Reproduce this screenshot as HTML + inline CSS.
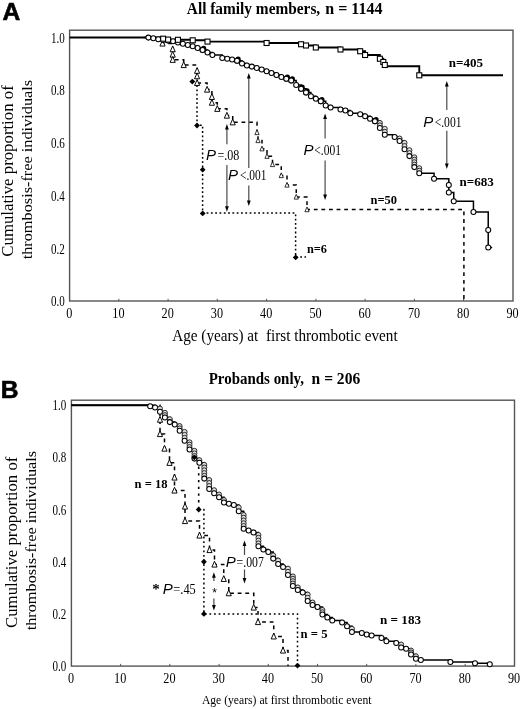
<!DOCTYPE html>
<html><head><meta charset="utf-8"><title>Thrombosis-free survival</title>
<style>
html,body{margin:0;padding:0;background:#fff;}
body{width:520px;height:709px;overflow:hidden;font-family:"Liberation Serif",serif;}
svg{display:block;filter:grayscale(1);}
text{fill:#000;}
</style></head><body>
<svg width="520" height="709" viewBox="0 0 520 709">
<rect x="0" y="0" width="520" height="709" fill="#fff"/>
<rect x="69.6" y="30.2" width="443.4" height="270.8" fill="none" stroke="#555" stroke-width="1.4"/>
<rect x="71.4" y="400.2" width="443.1" height="265.90000000000003" fill="none" stroke="#555" stroke-width="1.4"/>
<line x1="118.8" y1="301.0" x2="118.8" y2="298.8" stroke="#555" stroke-width="1"/>
<line x1="120.6" y1="666.1" x2="120.6" y2="663.9" stroke="#555" stroke-width="1"/>
<line x1="168.1" y1="301.0" x2="168.1" y2="298.8" stroke="#555" stroke-width="1"/>
<line x1="169.8" y1="666.1" x2="169.8" y2="663.9" stroke="#555" stroke-width="1"/>
<line x1="217.3" y1="301.0" x2="217.3" y2="298.8" stroke="#555" stroke-width="1"/>
<line x1="219.1" y1="666.1" x2="219.1" y2="663.9" stroke="#555" stroke-width="1"/>
<line x1="266.6" y1="301.0" x2="266.6" y2="298.8" stroke="#555" stroke-width="1"/>
<line x1="268.3" y1="666.1" x2="268.3" y2="663.9" stroke="#555" stroke-width="1"/>
<line x1="315.9" y1="301.0" x2="315.9" y2="298.8" stroke="#555" stroke-width="1"/>
<line x1="317.5" y1="666.1" x2="317.5" y2="663.9" stroke="#555" stroke-width="1"/>
<line x1="365.1" y1="301.0" x2="365.1" y2="298.8" stroke="#555" stroke-width="1"/>
<line x1="366.7" y1="666.1" x2="366.7" y2="663.9" stroke="#555" stroke-width="1"/>
<line x1="414.4" y1="301.0" x2="414.4" y2="298.8" stroke="#555" stroke-width="1"/>
<line x1="415.9" y1="666.1" x2="415.9" y2="663.9" stroke="#555" stroke-width="1"/>
<line x1="463.6" y1="301.0" x2="463.6" y2="298.8" stroke="#555" stroke-width="1"/>
<line x1="465.2" y1="666.1" x2="465.2" y2="663.9" stroke="#555" stroke-width="1"/>
<text x="69.2" y="317.7" font-family="Liberation Serif" font-size="15" font-weight="normal" font-style="normal" text-anchor="middle" textLength="6.1" lengthAdjust="spacingAndGlyphs" >0</text>
<text x="71.0" y="682.7" font-family="Liberation Serif" font-size="15" font-weight="normal" font-style="normal" text-anchor="middle" textLength="6.1" lengthAdjust="spacingAndGlyphs" >0</text>
<text x="118.4" y="317.7" font-family="Liberation Serif" font-size="15" font-weight="normal" font-style="normal" text-anchor="middle" textLength="12.2" lengthAdjust="spacingAndGlyphs" >10</text>
<text x="120.2" y="682.7" font-family="Liberation Serif" font-size="15" font-weight="normal" font-style="normal" text-anchor="middle" textLength="12.2" lengthAdjust="spacingAndGlyphs" >10</text>
<text x="167.7" y="317.7" font-family="Liberation Serif" font-size="15" font-weight="normal" font-style="normal" text-anchor="middle" textLength="12.2" lengthAdjust="spacingAndGlyphs" >20</text>
<text x="169.4" y="682.7" font-family="Liberation Serif" font-size="15" font-weight="normal" font-style="normal" text-anchor="middle" textLength="12.2" lengthAdjust="spacingAndGlyphs" >20</text>
<text x="216.9" y="317.7" font-family="Liberation Serif" font-size="15" font-weight="normal" font-style="normal" text-anchor="middle" textLength="12.2" lengthAdjust="spacingAndGlyphs" >30</text>
<text x="218.7" y="682.7" font-family="Liberation Serif" font-size="15" font-weight="normal" font-style="normal" text-anchor="middle" textLength="12.2" lengthAdjust="spacingAndGlyphs" >30</text>
<text x="266.2" y="317.7" font-family="Liberation Serif" font-size="15" font-weight="normal" font-style="normal" text-anchor="middle" textLength="12.2" lengthAdjust="spacingAndGlyphs" >40</text>
<text x="267.9" y="682.7" font-family="Liberation Serif" font-size="15" font-weight="normal" font-style="normal" text-anchor="middle" textLength="12.2" lengthAdjust="spacingAndGlyphs" >40</text>
<text x="315.5" y="317.7" font-family="Liberation Serif" font-size="15" font-weight="normal" font-style="normal" text-anchor="middle" textLength="12.2" lengthAdjust="spacingAndGlyphs" >50</text>
<text x="317.1" y="682.7" font-family="Liberation Serif" font-size="15" font-weight="normal" font-style="normal" text-anchor="middle" textLength="12.2" lengthAdjust="spacingAndGlyphs" >50</text>
<text x="364.7" y="317.7" font-family="Liberation Serif" font-size="15" font-weight="normal" font-style="normal" text-anchor="middle" textLength="12.2" lengthAdjust="spacingAndGlyphs" >60</text>
<text x="366.3" y="682.7" font-family="Liberation Serif" font-size="15" font-weight="normal" font-style="normal" text-anchor="middle" textLength="12.2" lengthAdjust="spacingAndGlyphs" >60</text>
<text x="414.0" y="317.7" font-family="Liberation Serif" font-size="15" font-weight="normal" font-style="normal" text-anchor="middle" textLength="12.2" lengthAdjust="spacingAndGlyphs" >70</text>
<text x="415.5" y="682.7" font-family="Liberation Serif" font-size="15" font-weight="normal" font-style="normal" text-anchor="middle" textLength="12.2" lengthAdjust="spacingAndGlyphs" >70</text>
<text x="463.2" y="317.7" font-family="Liberation Serif" font-size="15" font-weight="normal" font-style="normal" text-anchor="middle" textLength="12.2" lengthAdjust="spacingAndGlyphs" >80</text>
<text x="464.8" y="682.7" font-family="Liberation Serif" font-size="15" font-weight="normal" font-style="normal" text-anchor="middle" textLength="12.2" lengthAdjust="spacingAndGlyphs" >80</text>
<text x="512.5" y="317.7" font-family="Liberation Serif" font-size="15" font-weight="normal" font-style="normal" text-anchor="middle" textLength="12.2" lengthAdjust="spacingAndGlyphs" >90</text>
<text x="514.0" y="682.7" font-family="Liberation Serif" font-size="15" font-weight="normal" font-style="normal" text-anchor="middle" textLength="12.2" lengthAdjust="spacingAndGlyphs" >90</text>
<text x="64.7" y="306.3" font-family="Liberation Serif" font-size="15" font-weight="normal" font-style="normal" text-anchor="end" textLength="13.8" lengthAdjust="spacingAndGlyphs" >0.0</text>
<text x="66.3" y="671.1" font-family="Liberation Serif" font-size="15" font-weight="normal" font-style="normal" text-anchor="end" textLength="13.8" lengthAdjust="spacingAndGlyphs" >0.0</text>
<text x="64.7" y="253.6" font-family="Liberation Serif" font-size="15" font-weight="normal" font-style="normal" text-anchor="end" textLength="13.8" lengthAdjust="spacingAndGlyphs" >0.2</text>
<text x="66.3" y="618.9" font-family="Liberation Serif" font-size="15" font-weight="normal" font-style="normal" text-anchor="end" textLength="13.8" lengthAdjust="spacingAndGlyphs" >0.2</text>
<text x="64.7" y="200.8" font-family="Liberation Serif" font-size="15" font-weight="normal" font-style="normal" text-anchor="end" textLength="13.8" lengthAdjust="spacingAndGlyphs" >0.4</text>
<text x="66.3" y="566.7" font-family="Liberation Serif" font-size="15" font-weight="normal" font-style="normal" text-anchor="end" textLength="13.8" lengthAdjust="spacingAndGlyphs" >0.4</text>
<text x="64.7" y="148.1" font-family="Liberation Serif" font-size="15" font-weight="normal" font-style="normal" text-anchor="end" textLength="13.8" lengthAdjust="spacingAndGlyphs" >0.6</text>
<text x="66.3" y="514.6" font-family="Liberation Serif" font-size="15" font-weight="normal" font-style="normal" text-anchor="end" textLength="13.8" lengthAdjust="spacingAndGlyphs" >0.6</text>
<text x="64.7" y="95.3" font-family="Liberation Serif" font-size="15" font-weight="normal" font-style="normal" text-anchor="end" textLength="13.8" lengthAdjust="spacingAndGlyphs" >0.8</text>
<text x="66.3" y="462.4" font-family="Liberation Serif" font-size="15" font-weight="normal" font-style="normal" text-anchor="end" textLength="13.8" lengthAdjust="spacingAndGlyphs" >0.8</text>
<text x="64.7" y="42.6" font-family="Liberation Serif" font-size="15" font-weight="normal" font-style="normal" text-anchor="end" textLength="13.8" lengthAdjust="spacingAndGlyphs" >1.0</text>
<text x="66.3" y="410.2" font-family="Liberation Serif" font-size="15" font-weight="normal" font-style="normal" text-anchor="end" textLength="13.8" lengthAdjust="spacingAndGlyphs" >1.0</text>
<text x="2.6" y="19.9" font-family="Liberation Sans" font-size="24.6" font-weight="bold" font-style="normal" text-anchor="start" stroke="#000" stroke-width="0.6">A</text>
<text x="0.7" y="397.9" font-family="Liberation Sans" font-size="24.6" font-weight="bold" font-style="normal" text-anchor="start" stroke="#000" stroke-width="0.6">B</text>
<text x="186.8" y="13.8" font-family="Liberation Serif" font-size="16.2" font-weight="bold" font-style="normal" text-anchor="start" textLength="133.4" lengthAdjust="spacingAndGlyphs" >All family members,</text>
<text x="325.3" y="13.8" font-family="Liberation Serif" font-size="16.2" font-weight="bold" font-style="normal" text-anchor="start" textLength="57.2" lengthAdjust="spacingAndGlyphs" >n = 1144</text>
<text x="208.7" y="383.7" font-family="Liberation Serif" font-size="16.2" font-weight="bold" font-style="normal" text-anchor="start" textLength="95.3" lengthAdjust="spacingAndGlyphs" >Probands only,</text>
<text x="311.6" y="383.7" font-family="Liberation Serif" font-size="16.2" font-weight="bold" font-style="normal" text-anchor="start" textLength="48.6" lengthAdjust="spacingAndGlyphs" >n = 206</text>
<text x="172.2" y="340.5" font-family="Liberation Serif" font-size="17.6" font-weight="normal" font-style="normal" text-anchor="start" textLength="225.5" lengthAdjust="spacingAndGlyphs" xml:space="preserve">Age (years) at  first thrombotic event</text>
<text x="201.9" y="703.6" font-family="Liberation Serif" font-size="13" font-weight="normal" font-style="normal" text-anchor="start" textLength="169.6" lengthAdjust="spacingAndGlyphs" >Age (years) at first thrombotic event</text>
<text transform="translate(13.1,171.0) rotate(-90)" font-family="Liberation Serif" font-size="16" text-anchor="middle" textLength="171.4" lengthAdjust="spacingAndGlyphs">Cumulative proportion of</text>
<text transform="translate(32.3,169.6) rotate(-90)" font-family="Liberation Serif" font-size="15.3" text-anchor="middle" textLength="179.5" lengthAdjust="spacingAndGlyphs">thrombosis-free individuals</text>
<text transform="translate(16.6,542.3) rotate(-90)" font-family="Liberation Serif" font-size="16" text-anchor="middle" textLength="171.4" lengthAdjust="spacingAndGlyphs">Cumulative proportion of</text>
<text transform="translate(36.1,540.6) rotate(-90)" font-family="Liberation Serif" font-size="15.3" text-anchor="middle" textLength="179.5" lengthAdjust="spacingAndGlyphs">thrombosis-free individuals</text>
<path d="M69.60,37.50 H163.18 V38.70 H168.10 V39.60 H177.95 V39.80 H192.72 V40.30 H207.50 V41.60 H266.60 V43.00 H301.07 V44.25 H306.00 V45.50 H315.85 V47.50 H340.48 V49.50 H360.17 V51.25 H365.10 V55.00 H379.88 V58.75 H383.32 V62.00 H384.80 V65.00 H385.05 V66.25 H419.27 V75.30 H503" fill="none" stroke="#000" stroke-width="1.9"/>
<path d="M143.47,37.50 H148.40 V37.60 H153.32 V38.25 H158.25 V39.25 H163.18 V40.00 H168.10 V40.60 H173.02 V41.25 H177.95 V42.50 H182.88 V43.75 H187.80 V45.00 H192.72 V46.25 H197.65 V48.00 H202.57 V50.00 H207.50 V52.50 H212.42 V55.00 H222.27 V58.00 H227.20 V58.75 H232.12 V59.50 H237.05 V60.75 H241.97 V63.50 H246.90 V65.50 H251.82 V66.60 H256.75 V68.00 H261.67 V69.50 H266.60 V71.25 H271.52 V73.00 H276.45 V75.00 H281.38 V77.00 H286.30 V78.75 H291.23 V80.50 H296.15 V85.00 H301.07 V88.75 H306.00 V92.50 H310.92 V96.25 H315.85 V98.75 H320.77 V101.25 H325.70 V105.50 H330.62 V107.50 H340.48 V109.50 H345.40 V110.50 H350.32 V113.25 H360.17 V114.25 H365.10 V116.25 H370.02 V118.75 H374.95 V121.25 H379.88 V127.90 H384.80 V134.80 H394.65 V137.00 H399.57 V140.90 H404.50 V149.20 H409.42 V156.10 H414.35 V167.10 H419.27 V173.25 H434.05 V178.75 H448.82 V192.50 H453.75 V201.25 H473.45 V212.00 H488.23 V247.50 H492.2" fill="none" stroke="#000" stroke-width="1.5"/>
<path d="M150.00,37.50 H162.50 V43.50 H172.70 V49.20 H172.70 V54.60 H172.70 V59.80 H183.70 V65.00 H197.10 V70.80 H197.10 V76.20 H197.10 V82.90 H207.10 V89.60 H211.90 V96.90 H211.90 V102.70 H217.30 V108.80 H226.90 V115.60 H232.70 V122.30 H257.00 V132.50 H258.00 V140.50 H262.00 V148.75 H267.00 V156.25 H272.50 V164.50 H281.25 V175.50 H287.00 V185.00 H296.25 V197.00 H307.00 V209.60 H463.9 V301.0" fill="none" stroke="#000" stroke-width="1.5" stroke-dasharray="3.8 3.8" stroke-dashoffset="6.1"/>
<path d="M192.3,81.2 H197 V125.2 H202.6 V213.1 H295.6 V257.1 H306" fill="none" stroke="#000" stroke-width="1.5" stroke-dasharray="1.8 2.5"/>
<line x1="226.9" y1="127" x2="226.9" y2="144.2" stroke="#4a4a4a" stroke-width="1.2"/>
<line x1="226.9" y1="165" x2="226.9" y2="208.8" stroke="#4a4a4a" stroke-width="1.2"/>
<path d="M226.9,124 L228.8,129.5 L225.0,129.5 Z" fill="#000"/>
<path d="M226.9,211.8 L228.8,206.3 L225.0,206.3 Z" fill="#000"/>
<line x1="248.8" y1="76" x2="248.8" y2="168" stroke="#4a4a4a" stroke-width="1.2"/>
<line x1="248.8" y1="185.5" x2="248.8" y2="203" stroke="#4a4a4a" stroke-width="1.2"/>
<path d="M248.8,73 L250.70000000000002,78.5 L246.9,78.5 Z" fill="#000"/>
<path d="M248.8,206 L250.70000000000002,200.5 L246.9,200.5 Z" fill="#000"/>
<line x1="325.1" y1="116.5" x2="325.1" y2="138.5" stroke="#4a4a4a" stroke-width="1.2"/>
<line x1="325.1" y1="160.4" x2="325.1" y2="197" stroke="#4a4a4a" stroke-width="1.2"/>
<path d="M325.1,113.5 L327.0,119.0 L323.20000000000005,119.0 Z" fill="#000"/>
<path d="M325.1,200 L327.0,194.5 L323.20000000000005,194.5 Z" fill="#000"/>
<line x1="446.8" y1="84" x2="446.8" y2="110" stroke="#4a4a4a" stroke-width="1.2"/>
<line x1="446.8" y1="130.8" x2="446.8" y2="166" stroke="#4a4a4a" stroke-width="1.2"/>
<path d="M446.8,81 L448.7,86.5 L444.90000000000003,86.5 Z" fill="#000"/>
<path d="M446.8,169 L448.7,163.5 L444.90000000000003,163.5 Z" fill="#000"/>
<path d="M162.50,40.25 L165.08,46.08 L159.92,46.08 Z" fill="#fff" stroke="#000" stroke-width="0.95"/>
<path d="M172.70,45.95 L175.28,51.78 L170.12,51.78 Z" fill="#fff" stroke="#000" stroke-width="0.95"/>
<path d="M172.70,51.35 L175.28,57.18 L170.12,57.18 Z" fill="#fff" stroke="#000" stroke-width="0.95"/>
<path d="M172.70,56.55 L175.28,62.38 L170.12,62.38 Z" fill="#fff" stroke="#000" stroke-width="0.95"/>
<path d="M183.70,61.75 L186.28,67.58 L181.12,67.58 Z" fill="#fff" stroke="#000" stroke-width="0.95"/>
<path d="M197.10,67.55 L199.68,73.38 L194.52,73.38 Z" fill="#fff" stroke="#000" stroke-width="0.95"/>
<path d="M197.10,72.95 L199.68,78.78 L194.52,78.78 Z" fill="#fff" stroke="#000" stroke-width="0.95"/>
<path d="M197.10,79.65 L199.68,85.48 L194.52,85.48 Z" fill="#fff" stroke="#000" stroke-width="0.95"/>
<path d="M207.10,86.35 L209.68,92.18 L204.52,92.18 Z" fill="#fff" stroke="#000" stroke-width="0.95"/>
<path d="M211.90,93.65 L214.48,99.48 L209.32,99.48 Z" fill="#fff" stroke="#000" stroke-width="0.95"/>
<path d="M211.90,99.45 L214.48,105.28 L209.32,105.28 Z" fill="#fff" stroke="#000" stroke-width="0.95"/>
<path d="M217.30,105.55 L219.88,111.38 L214.72,111.38 Z" fill="#fff" stroke="#000" stroke-width="0.95"/>
<path d="M226.90,112.35 L229.48,118.18 L224.32,118.18 Z" fill="#fff" stroke="#000" stroke-width="0.95"/>
<path d="M232.70,119.05 L235.28,124.88 L230.12,124.88 Z" fill="#fff" stroke="#000" stroke-width="0.95"/>
<path d="M257.00,129.83 L259.12,134.62 L254.88,134.62 Z" fill="#fff" stroke="#000" stroke-width="0.78"/>
<path d="M258.00,137.83 L260.12,142.62 L255.88,142.62 Z" fill="#fff" stroke="#000" stroke-width="0.78"/>
<path d="M262.00,146.08 L264.12,150.87 L259.88,150.87 Z" fill="#fff" stroke="#000" stroke-width="0.78"/>
<path d="M267.00,153.58 L269.12,158.37 L264.88,158.37 Z" fill="#fff" stroke="#000" stroke-width="0.78"/>
<path d="M272.50,161.83 L274.62,166.62 L270.38,166.62 Z" fill="#fff" stroke="#000" stroke-width="0.78"/>
<path d="M281.25,172.83 L283.37,177.62 L279.13,177.62 Z" fill="#fff" stroke="#000" stroke-width="0.78"/>
<path d="M287.00,182.33 L289.12,187.12 L284.88,187.12 Z" fill="#fff" stroke="#000" stroke-width="0.78"/>
<path d="M296.25,194.33 L298.37,199.12 L294.13,199.12 Z" fill="#fff" stroke="#000" stroke-width="0.78"/>
<path d="M307.00,206.93 L309.12,211.72 L304.88,211.72 Z" fill="#fff" stroke="#000" stroke-width="0.78"/>
<circle cx="148.40" cy="37.60" r="2.5" fill="#fff" stroke="#000" stroke-width="1.05"/>
<circle cx="153.32" cy="38.25" r="2.5" fill="#fff" stroke="#000" stroke-width="1.05"/>
<circle cx="158.25" cy="39.25" r="2.5" fill="#fff" stroke="#000" stroke-width="1.05"/>
<circle cx="163.18" cy="40.00" r="2.5" fill="#fff" stroke="#000" stroke-width="1.05"/>
<circle cx="168.10" cy="40.60" r="2.5" fill="#fff" stroke="#000" stroke-width="1.05"/>
<circle cx="173.02" cy="41.25" r="2.5" fill="#fff" stroke="#000" stroke-width="1.05"/>
<circle cx="177.95" cy="42.50" r="2.5" fill="#fff" stroke="#000" stroke-width="1.05"/>
<circle cx="182.88" cy="43.75" r="2.5" fill="#fff" stroke="#000" stroke-width="1.05"/>
<circle cx="187.80" cy="45.00" r="2.5" fill="#fff" stroke="#000" stroke-width="1.05"/>
<circle cx="192.72" cy="46.25" r="2.5" fill="#fff" stroke="#000" stroke-width="1.05"/>
<circle cx="197.65" cy="48.00" r="2.5" fill="#fff" stroke="#000" stroke-width="1.05"/>
<circle cx="203.67" cy="48.40" r="2.6" fill="#000"/>
<circle cx="202.57" cy="50.00" r="2.5" fill="#fff" stroke="#000" stroke-width="1.05"/>
<circle cx="202.57" cy="50.00" r="2.5" fill="#fff" stroke="#000" stroke-width="1.05"/>
<circle cx="207.50" cy="52.50" r="2.5" fill="#fff" stroke="#000" stroke-width="1.05"/>
<circle cx="212.42" cy="55.00" r="2.5" fill="#fff" stroke="#000" stroke-width="1.05"/>
<circle cx="222.27" cy="58.00" r="2.5" fill="#fff" stroke="#000" stroke-width="1.05"/>
<circle cx="227.20" cy="58.75" r="2.5" fill="#fff" stroke="#000" stroke-width="1.05"/>
<circle cx="232.12" cy="59.50" r="2.5" fill="#fff" stroke="#000" stroke-width="1.05"/>
<circle cx="238.15" cy="59.15" r="2.6" fill="#000"/>
<circle cx="237.05" cy="60.75" r="2.5" fill="#fff" stroke="#000" stroke-width="1.05"/>
<circle cx="237.05" cy="60.75" r="2.5" fill="#fff" stroke="#000" stroke-width="1.05"/>
<circle cx="241.97" cy="63.50" r="2.5" fill="#fff" stroke="#000" stroke-width="1.05"/>
<circle cx="246.90" cy="65.50" r="2.5" fill="#fff" stroke="#000" stroke-width="1.05"/>
<circle cx="251.82" cy="66.60" r="2.5" fill="#fff" stroke="#000" stroke-width="1.05"/>
<circle cx="256.75" cy="68.00" r="2.5" fill="#fff" stroke="#000" stroke-width="1.05"/>
<circle cx="261.67" cy="69.50" r="2.5" fill="#fff" stroke="#000" stroke-width="1.05"/>
<circle cx="266.60" cy="71.25" r="2.5" fill="#fff" stroke="#000" stroke-width="1.05"/>
<circle cx="271.52" cy="73.00" r="2.5" fill="#fff" stroke="#000" stroke-width="1.05"/>
<circle cx="276.45" cy="75.00" r="2.5" fill="#fff" stroke="#000" stroke-width="1.05"/>
<circle cx="281.38" cy="77.00" r="2.5" fill="#fff" stroke="#000" stroke-width="1.05"/>
<circle cx="287.40" cy="77.15" r="2.6" fill="#000"/>
<circle cx="286.30" cy="78.75" r="2.5" fill="#fff" stroke="#000" stroke-width="1.05"/>
<circle cx="286.30" cy="78.75" r="2.5" fill="#fff" stroke="#000" stroke-width="1.05"/>
<circle cx="292.33" cy="78.90" r="2.6" fill="#000"/>
<circle cx="291.23" cy="80.50" r="2.5" fill="#fff" stroke="#000" stroke-width="1.05"/>
<circle cx="291.23" cy="80.50" r="2.5" fill="#fff" stroke="#000" stroke-width="1.05"/>
<circle cx="296.15" cy="85.00" r="2.5" fill="#fff" stroke="#000" stroke-width="1.05"/>
<circle cx="302.18" cy="87.15" r="2.6" fill="#000"/>
<circle cx="301.07" cy="88.75" r="2.5" fill="#fff" stroke="#000" stroke-width="1.05"/>
<circle cx="301.07" cy="88.75" r="2.5" fill="#fff" stroke="#000" stroke-width="1.05"/>
<circle cx="307.10" cy="90.90" r="2.6" fill="#000"/>
<circle cx="306.00" cy="92.50" r="2.5" fill="#fff" stroke="#000" stroke-width="1.05"/>
<circle cx="306.00" cy="92.50" r="2.5" fill="#fff" stroke="#000" stroke-width="1.05"/>
<circle cx="310.92" cy="96.25" r="2.5" fill="#fff" stroke="#000" stroke-width="1.05"/>
<circle cx="315.85" cy="98.75" r="2.5" fill="#fff" stroke="#000" stroke-width="1.05"/>
<circle cx="321.88" cy="99.65" r="2.6" fill="#000"/>
<circle cx="320.77" cy="101.25" r="2.5" fill="#fff" stroke="#000" stroke-width="1.05"/>
<circle cx="320.77" cy="101.25" r="2.5" fill="#fff" stroke="#000" stroke-width="1.05"/>
<circle cx="325.70" cy="105.50" r="2.5" fill="#fff" stroke="#000" stroke-width="1.05"/>
<circle cx="330.62" cy="107.50" r="2.5" fill="#fff" stroke="#000" stroke-width="1.05"/>
<circle cx="340.48" cy="109.50" r="2.5" fill="#fff" stroke="#000" stroke-width="1.05"/>
<circle cx="345.40" cy="110.50" r="2.5" fill="#fff" stroke="#000" stroke-width="1.05"/>
<circle cx="350.32" cy="113.25" r="2.5" fill="#fff" stroke="#000" stroke-width="1.05"/>
<circle cx="360.17" cy="114.25" r="2.5" fill="#fff" stroke="#000" stroke-width="1.05"/>
<circle cx="365.10" cy="116.25" r="2.5" fill="#fff" stroke="#000" stroke-width="1.05"/>
<circle cx="370.02" cy="118.75" r="2.5" fill="#fff" stroke="#000" stroke-width="1.05"/>
<circle cx="376.05" cy="119.65" r="2.6" fill="#000"/>
<circle cx="374.95" cy="121.25" r="2.5" fill="#fff" stroke="#000" stroke-width="1.05"/>
<circle cx="374.95" cy="121.25" r="2.5" fill="#fff" stroke="#000" stroke-width="1.05"/>
<circle cx="379.88" cy="122.90" r="2.5" fill="#ddd" stroke="#111" stroke-width="0.85"/>
<circle cx="379.88" cy="125.40" r="2.5" fill="#ddd" stroke="#111" stroke-width="0.85"/>
<circle cx="379.88" cy="127.90" r="2.5" fill="#fff" stroke="#000" stroke-width="1.05"/>
<circle cx="384.80" cy="128.80" r="2.5" fill="#ddd" stroke="#111" stroke-width="0.85"/>
<circle cx="384.80" cy="131.80" r="2.5" fill="#ddd" stroke="#111" stroke-width="0.85"/>
<circle cx="384.80" cy="134.80" r="2.5" fill="#fff" stroke="#000" stroke-width="1.05"/>
<circle cx="394.65" cy="137.00" r="2.5" fill="#fff" stroke="#000" stroke-width="1.05"/>
<circle cx="399.57" cy="138.50" r="2.5" fill="#ddd" stroke="#111" stroke-width="0.85"/>
<circle cx="399.57" cy="140.90" r="2.5" fill="#fff" stroke="#000" stroke-width="1.05"/>
<circle cx="404.50" cy="142.90" r="2.5" fill="#ddd" stroke="#111" stroke-width="0.85"/>
<circle cx="404.50" cy="146.05" r="2.5" fill="#ddd" stroke="#111" stroke-width="0.85"/>
<circle cx="404.50" cy="149.20" r="2.5" fill="#fff" stroke="#000" stroke-width="1.05"/>
<circle cx="409.42" cy="150.20" r="2.5" fill="#ddd" stroke="#111" stroke-width="0.85"/>
<circle cx="409.42" cy="153.15" r="2.5" fill="#ddd" stroke="#111" stroke-width="0.85"/>
<circle cx="409.42" cy="156.10" r="2.5" fill="#fff" stroke="#000" stroke-width="1.05"/>
<circle cx="414.35" cy="157.30" r="2.5" fill="#ddd" stroke="#111" stroke-width="0.85"/>
<circle cx="414.35" cy="159.75" r="2.5" fill="#ddd" stroke="#111" stroke-width="0.85"/>
<circle cx="414.35" cy="162.20" r="2.5" fill="#ddd" stroke="#111" stroke-width="0.85"/>
<circle cx="414.35" cy="164.65" r="2.5" fill="#ddd" stroke="#111" stroke-width="0.85"/>
<circle cx="414.35" cy="167.10" r="2.5" fill="#fff" stroke="#000" stroke-width="1.05"/>
<circle cx="419.27" cy="168.20" r="2.5" fill="#ddd" stroke="#111" stroke-width="0.85"/>
<circle cx="419.27" cy="170.72" r="2.5" fill="#ddd" stroke="#111" stroke-width="0.85"/>
<circle cx="419.27" cy="173.25" r="2.5" fill="#fff" stroke="#000" stroke-width="1.05"/>
<circle cx="434.05" cy="178.75" r="2.5" fill="#fff" stroke="#000" stroke-width="1.05"/>
<circle cx="448.82" cy="185.00" r="2.5" fill="#fff" stroke="#000" stroke-width="1.05"/>
<circle cx="448.82" cy="192.50" r="2.5" fill="#fff" stroke="#000" stroke-width="1.05"/>
<circle cx="453.75" cy="201.25" r="2.5" fill="#fff" stroke="#000" stroke-width="1.05"/>
<circle cx="473.45" cy="212.00" r="2.5" fill="#fff" stroke="#000" stroke-width="1.05"/>
<circle cx="488.23" cy="230.00" r="2.5" fill="#fff" stroke="#000" stroke-width="1.05"/>
<circle cx="488.23" cy="247.50" r="2.5" fill="#fff" stroke="#000" stroke-width="1.05"/>
<rect x="160.68" y="36.20" width="5" height="5" fill="#fff" stroke="#000" stroke-width="1.1"/>
<rect x="165.60" y="37.10" width="5" height="5" fill="#fff" stroke="#000" stroke-width="1.1"/>
<rect x="175.45" y="37.30" width="5" height="5" fill="#fff" stroke="#000" stroke-width="1.1"/>
<rect x="190.22" y="37.80" width="5" height="5" fill="#fff" stroke="#000" stroke-width="1.1"/>
<rect x="205.00" y="39.10" width="5" height="5" fill="#fff" stroke="#000" stroke-width="1.1"/>
<rect x="264.10" y="40.50" width="5" height="5" fill="#fff" stroke="#000" stroke-width="1.1"/>
<rect x="298.57" y="41.75" width="5" height="5" fill="#fff" stroke="#000" stroke-width="1.1"/>
<rect x="303.50" y="43.00" width="5" height="5" fill="#fff" stroke="#000" stroke-width="1.1"/>
<rect x="313.35" y="45.00" width="5" height="5" fill="#fff" stroke="#000" stroke-width="1.1"/>
<rect x="337.98" y="47.00" width="5" height="5" fill="#fff" stroke="#000" stroke-width="1.1"/>
<rect x="357.67" y="48.75" width="5" height="5" fill="#fff" stroke="#000" stroke-width="1.1"/>
<rect x="362.60" y="52.50" width="5" height="5" fill="#fff" stroke="#000" stroke-width="1.1"/>
<rect x="377.38" y="56.25" width="5" height="5" fill="#fff" stroke="#000" stroke-width="1.1"/>
<rect x="380.82" y="59.50" width="5" height="5" fill="#fff" stroke="#000" stroke-width="1.1"/>
<rect x="382.30" y="62.50" width="5" height="5" fill="#fff" stroke="#000" stroke-width="1.1"/>
<rect x="416.77" y="72.80" width="5" height="5" fill="#fff" stroke="#000" stroke-width="1.1"/>
<path d="M192.30,78.65 L195.20,81.55 L192.30,84.45 L189.40,81.55 Z" fill="#000"/>
<path d="M197.00,122.60 L199.90,125.50 L197.00,128.40 L194.10,125.50 Z" fill="#000"/>
<path d="M202.70,166.75 L205.60,169.65 L202.70,172.55 L199.80,169.65 Z" fill="#000"/>
<path d="M202.70,210.50 L205.60,213.40 L202.70,216.30 L199.80,213.40 Z" fill="#000"/>
<path d="M295.70,254.55 L298.60,257.45 L295.70,260.35 L292.80,257.45 Z" fill="#000"/>
<text x="205.9" y="160" font-family="Liberation Sans" font-size="15" font-style="italic">P</text>
<text x="217.4" y="160" font-family="Liberation Serif" font-size="13.8" textLength="21.9" lengthAdjust="spacingAndGlyphs">=.08</text>
<text x="227.9" y="180.4" font-family="Liberation Sans" font-size="15" font-style="italic">P</text>
<text x="240.0" y="180.4" font-family="Liberation Serif" font-size="13.8" textLength="26.4" lengthAdjust="spacingAndGlyphs">&lt;.001</text>
<text x="303.59999999999997" y="154.6" font-family="Liberation Sans" font-size="15" font-style="italic">P</text>
<text x="314.3" y="154.6" font-family="Liberation Serif" font-size="13.8" textLength="26.6" lengthAdjust="spacingAndGlyphs">&lt;.001</text>
<text x="423.2" y="126.6" font-family="Liberation Sans" font-size="15" font-style="italic">P</text>
<text x="434.7" y="126.6" font-family="Liberation Serif" font-size="13.8" textLength="26.8" lengthAdjust="spacingAndGlyphs">&lt;.001</text>
<text x="448.8" y="66.5" font-family="Liberation Serif" font-size="13" font-weight="bold" font-style="normal" text-anchor="start" textLength="34.2" lengthAdjust="spacingAndGlyphs" >n=405</text>
<text x="459.5" y="186.3" font-family="Liberation Serif" font-size="13" font-weight="bold" font-style="normal" text-anchor="start" textLength="34.2" lengthAdjust="spacingAndGlyphs" >n=683</text>
<text x="370.5" y="203.8" font-family="Liberation Serif" font-size="13" font-weight="bold" font-style="normal" text-anchor="start" textLength="26.5" lengthAdjust="spacingAndGlyphs" >n=50</text>
<text x="307" y="252.5" font-family="Liberation Serif" font-size="13" font-weight="bold" font-style="normal" text-anchor="start" textLength="20" lengthAdjust="spacingAndGlyphs" >n=6</text>
<path d="M71.40,405.30 H150.15 V406.25 H155.07 V407.50 H160.00 V411.70 H164.92 V417.50 H169.84 V422.10 H174.76 V424.50 H179.68 V430.80 H184.61 V440.80 H189.53 V449.50 H194.45 V458.60 H199.37 V462.80 H204.29 V478.60 H209.22 V489.00 H214.14 V493.20 H219.06 V497.20 H223.98 V502.50 H228.90 V503.75 H233.83 V505.00 H238.75 V511.25 H243.67 V528.75 H248.59 V530.50 H253.51 V532.50 H258.44 V546.25 H263.36 V549.50 H268.28 V552.00 H273.20 V558.60 H278.12 V564.00 H283.05 V567.00 H287.97 V575.00 H292.89 V586.00 H297.81 V590.00 H302.73 V592.50 H307.66 V601.00 H312.58 V605.00 H317.50 V607.00 H322.42 V614.50 H327.34 V617.50 H332.27 V620.50 H342.11 V622.50 H347.03 V626.25 H351.95 V632.00 H361.80 V633.00 H366.72 V634.50 H371.64 V635.50 H381.49 V638.00 H386.41 V641.25 H396.25 V643.00 H401.17 V647.50 H406.10 V648.75 H411.02 V654.50 H415.94 V658.75 H420.86 V660.00 H450.39 V662.00 H475.00 V663.25 H489.77 V664.25 H491.8" fill="none" stroke="#000" stroke-width="1.6"/>
<line x1="71.4" y1="405.3" x2="150" y2="405.3" stroke="#000" stroke-width="1.9"/>
<path d="M152.00,405.30 H160.00 V419.70 H160.00 V434.00 H164.50 V448.60 H169.50 V462.80 H174.50 V477.50 H174.50 V490.50 H185.00 V506.50 H185.00 V521.00 H199.50 V535.50 H209.50 V550.00 H214.50 V564.50 H223.75 V578.90 H228.75 V593.20 H253.75 V607.50 H258.00 V622.00 H273.75 V636.40 H283.00 V650.50 H288 V666.1" fill="none" stroke="#000" stroke-width="1.5" stroke-dasharray="3.8 3.8" stroke-dashoffset="0"/>
<path d="M194.5,457.4 H198.7 V509.6" fill="none" stroke="#000" stroke-width="1.6" stroke-dasharray="2.3 4.4" stroke-dashoffset="0"/>
<path d="M198.7,509.6 H203.9 V613.9 H297.5 V666.1" fill="none" stroke="#000" stroke-width="1.5" stroke-dasharray="1.8 2.8"/>
<line x1="244.5" y1="543.4" x2="244.5" y2="555" stroke="#4a4a4a" stroke-width="1.2"/>
<line x1="244.5" y1="569.5" x2="244.5" y2="580.4" stroke="#4a4a4a" stroke-width="1.2"/>
<path d="M244.5,540.4 L246.4,545.9 L242.6,545.9 Z" fill="#000"/>
<path d="M244.5,583.4 L246.4,577.9 L242.6,577.9 Z" fill="#000"/>
<line x1="213.9" y1="575.3" x2="213.9" y2="581" stroke="#4a4a4a" stroke-width="1.2"/>
<line x1="213.9" y1="598.5" x2="213.9" y2="607.5" stroke="#4a4a4a" stroke-width="1.2"/>
<path d="M213.9,572.3 L215.8,577.8 L212.0,577.8 Z" fill="#000"/>
<path d="M213.9,610.5 L215.8,605.0 L212.0,605.0 Z" fill="#000"/>
<text x="214.7" y="597" font-family="Liberation Sans" font-size="12" font-weight="normal" font-style="normal" text-anchor="middle" >*</text>
<path d="M160.00,416.45 L162.58,422.28 L157.42,422.28 Z" fill="#fff" stroke="#000" stroke-width="0.95"/>
<path d="M160.00,430.75 L162.58,436.58 L157.42,436.58 Z" fill="#fff" stroke="#000" stroke-width="0.95"/>
<path d="M164.50,445.35 L167.08,451.18 L161.92,451.18 Z" fill="#fff" stroke="#000" stroke-width="0.95"/>
<path d="M169.50,459.55 L172.08,465.38 L166.92,465.38 Z" fill="#fff" stroke="#000" stroke-width="0.95"/>
<path d="M174.50,474.25 L177.08,480.08 L171.92,480.08 Z" fill="#fff" stroke="#000" stroke-width="0.95"/>
<path d="M174.50,487.25 L177.08,493.08 L171.92,493.08 Z" fill="#fff" stroke="#000" stroke-width="0.95"/>
<path d="M185.00,503.25 L187.58,509.08 L182.42,509.08 Z" fill="#fff" stroke="#000" stroke-width="0.95"/>
<path d="M185.00,517.75 L187.58,523.58 L182.42,523.58 Z" fill="#fff" stroke="#000" stroke-width="0.95"/>
<path d="M199.50,532.25 L202.08,538.08 L196.92,538.08 Z" fill="#fff" stroke="#000" stroke-width="0.95"/>
<path d="M209.50,546.75 L212.08,552.58 L206.92,552.58 Z" fill="#fff" stroke="#000" stroke-width="0.95"/>
<path d="M214.50,561.25 L217.08,567.08 L211.92,567.08 Z" fill="#fff" stroke="#000" stroke-width="0.95"/>
<path d="M223.75,575.65 L226.33,581.48 L221.17,581.48 Z" fill="#fff" stroke="#000" stroke-width="0.95"/>
<path d="M228.75,589.95 L231.33,595.78 L226.17,595.78 Z" fill="#fff" stroke="#000" stroke-width="0.95"/>
<path d="M253.75,604.25 L256.33,610.08 L251.17,610.08 Z" fill="#fff" stroke="#000" stroke-width="0.95"/>
<path d="M258.00,618.75 L260.58,624.58 L255.42,624.58 Z" fill="#fff" stroke="#000" stroke-width="0.95"/>
<path d="M273.75,633.15 L276.33,638.98 L271.17,638.98 Z" fill="#fff" stroke="#000" stroke-width="0.95"/>
<path d="M283.00,647.25 L285.58,653.08 L280.42,653.08 Z" fill="#fff" stroke="#000" stroke-width="0.95"/>
<circle cx="150.15" cy="406.25" r="2.5" fill="#fff" stroke="#000" stroke-width="1.05"/>
<circle cx="155.07" cy="407.50" r="2.5" fill="#fff" stroke="#000" stroke-width="1.05"/>
<circle cx="160.00" cy="408.60" r="2.5" fill="#ddd" stroke="#111" stroke-width="0.85"/>
<circle cx="160.00" cy="411.70" r="2.5" fill="#fff" stroke="#000" stroke-width="1.05"/>
<circle cx="164.92" cy="412.80" r="2.5" fill="#ddd" stroke="#111" stroke-width="0.85"/>
<circle cx="164.92" cy="415.15" r="2.5" fill="#ddd" stroke="#111" stroke-width="0.85"/>
<circle cx="164.92" cy="417.50" r="2.5" fill="#fff" stroke="#000" stroke-width="1.05"/>
<circle cx="169.84" cy="419.20" r="2.5" fill="#ddd" stroke="#111" stroke-width="0.85"/>
<circle cx="169.84" cy="422.10" r="2.5" fill="#fff" stroke="#000" stroke-width="1.05"/>
<circle cx="174.76" cy="424.50" r="2.5" fill="#fff" stroke="#000" stroke-width="1.05"/>
<circle cx="179.68" cy="426.10" r="2.5" fill="#ddd" stroke="#111" stroke-width="0.85"/>
<circle cx="179.68" cy="428.45" r="2.5" fill="#ddd" stroke="#111" stroke-width="0.85"/>
<circle cx="179.68" cy="430.80" r="2.5" fill="#fff" stroke="#000" stroke-width="1.05"/>
<circle cx="184.61" cy="431.90" r="2.5" fill="#ddd" stroke="#111" stroke-width="0.85"/>
<circle cx="184.61" cy="434.87" r="2.5" fill="#ddd" stroke="#111" stroke-width="0.85"/>
<circle cx="184.61" cy="437.83" r="2.5" fill="#ddd" stroke="#111" stroke-width="0.85"/>
<circle cx="184.61" cy="440.80" r="2.5" fill="#fff" stroke="#000" stroke-width="1.05"/>
<circle cx="189.53" cy="442.30" r="2.5" fill="#ddd" stroke="#111" stroke-width="0.85"/>
<circle cx="189.53" cy="444.70" r="2.5" fill="#ddd" stroke="#111" stroke-width="0.85"/>
<circle cx="189.53" cy="447.10" r="2.5" fill="#ddd" stroke="#111" stroke-width="0.85"/>
<circle cx="189.53" cy="449.50" r="2.5" fill="#fff" stroke="#000" stroke-width="1.05"/>
<circle cx="194.45" cy="450.80" r="2.5" fill="#ddd" stroke="#111" stroke-width="0.85"/>
<circle cx="194.45" cy="453.40" r="2.5" fill="#ddd" stroke="#111" stroke-width="0.85"/>
<circle cx="194.45" cy="456.00" r="2.5" fill="#ddd" stroke="#111" stroke-width="0.85"/>
<circle cx="194.45" cy="458.60" r="2.5" fill="#fff" stroke="#000" stroke-width="1.05"/>
<circle cx="199.37" cy="460.20" r="2.5" fill="#ddd" stroke="#111" stroke-width="0.85"/>
<circle cx="199.37" cy="462.80" r="2.5" fill="#fff" stroke="#000" stroke-width="1.05"/>
<circle cx="204.29" cy="464.80" r="2.5" fill="#ddd" stroke="#111" stroke-width="0.85"/>
<circle cx="204.29" cy="467.56" r="2.5" fill="#ddd" stroke="#111" stroke-width="0.85"/>
<circle cx="204.29" cy="470.32" r="2.5" fill="#ddd" stroke="#111" stroke-width="0.85"/>
<circle cx="204.29" cy="473.08" r="2.5" fill="#ddd" stroke="#111" stroke-width="0.85"/>
<circle cx="204.29" cy="475.84" r="2.5" fill="#ddd" stroke="#111" stroke-width="0.85"/>
<circle cx="204.29" cy="478.60" r="2.5" fill="#fff" stroke="#000" stroke-width="1.05"/>
<circle cx="209.22" cy="480.00" r="2.5" fill="#ddd" stroke="#111" stroke-width="0.85"/>
<circle cx="209.22" cy="483.00" r="2.5" fill="#ddd" stroke="#111" stroke-width="0.85"/>
<circle cx="209.22" cy="486.00" r="2.5" fill="#ddd" stroke="#111" stroke-width="0.85"/>
<circle cx="209.22" cy="489.00" r="2.5" fill="#fff" stroke="#000" stroke-width="1.05"/>
<circle cx="214.14" cy="490.20" r="2.5" fill="#ddd" stroke="#111" stroke-width="0.85"/>
<circle cx="214.14" cy="493.20" r="2.5" fill="#fff" stroke="#000" stroke-width="1.05"/>
<circle cx="219.06" cy="494.50" r="2.5" fill="#ddd" stroke="#111" stroke-width="0.85"/>
<circle cx="219.06" cy="497.20" r="2.5" fill="#fff" stroke="#000" stroke-width="1.05"/>
<circle cx="223.98" cy="500.00" r="2.5" fill="#ddd" stroke="#111" stroke-width="0.85"/>
<circle cx="223.98" cy="502.50" r="2.5" fill="#fff" stroke="#000" stroke-width="1.05"/>
<circle cx="228.90" cy="503.75" r="2.5" fill="#fff" stroke="#000" stroke-width="1.05"/>
<circle cx="233.83" cy="505.00" r="2.5" fill="#fff" stroke="#000" stroke-width="1.05"/>
<circle cx="238.75" cy="507.50" r="2.5" fill="#ddd" stroke="#111" stroke-width="0.85"/>
<circle cx="238.75" cy="511.25" r="2.5" fill="#fff" stroke="#000" stroke-width="1.05"/>
<circle cx="243.67" cy="515.00" r="2.5" fill="#ddd" stroke="#111" stroke-width="0.85"/>
<circle cx="243.67" cy="517.75" r="2.5" fill="#ddd" stroke="#111" stroke-width="0.85"/>
<circle cx="243.67" cy="520.50" r="2.5" fill="#ddd" stroke="#111" stroke-width="0.85"/>
<circle cx="243.67" cy="523.25" r="2.5" fill="#ddd" stroke="#111" stroke-width="0.85"/>
<circle cx="243.67" cy="526.00" r="2.5" fill="#ddd" stroke="#111" stroke-width="0.85"/>
<circle cx="243.67" cy="528.75" r="2.5" fill="#fff" stroke="#000" stroke-width="1.05"/>
<circle cx="248.59" cy="530.50" r="2.5" fill="#fff" stroke="#000" stroke-width="1.05"/>
<circle cx="253.51" cy="532.50" r="2.5" fill="#fff" stroke="#000" stroke-width="1.05"/>
<circle cx="258.44" cy="535.00" r="2.5" fill="#ddd" stroke="#111" stroke-width="0.85"/>
<circle cx="258.44" cy="537.81" r="2.5" fill="#ddd" stroke="#111" stroke-width="0.85"/>
<circle cx="258.44" cy="540.62" r="2.5" fill="#ddd" stroke="#111" stroke-width="0.85"/>
<circle cx="258.44" cy="543.44" r="2.5" fill="#ddd" stroke="#111" stroke-width="0.85"/>
<circle cx="258.44" cy="546.25" r="2.5" fill="#fff" stroke="#000" stroke-width="1.05"/>
<circle cx="263.36" cy="549.50" r="2.5" fill="#fff" stroke="#000" stroke-width="1.05"/>
<circle cx="268.28" cy="552.00" r="2.5" fill="#fff" stroke="#000" stroke-width="1.05"/>
<circle cx="273.20" cy="555.40" r="2.5" fill="#ddd" stroke="#111" stroke-width="0.85"/>
<circle cx="273.20" cy="558.60" r="2.5" fill="#fff" stroke="#000" stroke-width="1.05"/>
<circle cx="278.12" cy="560.50" r="2.5" fill="#ddd" stroke="#111" stroke-width="0.85"/>
<circle cx="278.12" cy="564.00" r="2.5" fill="#fff" stroke="#000" stroke-width="1.05"/>
<circle cx="283.05" cy="567.00" r="2.5" fill="#fff" stroke="#000" stroke-width="1.05"/>
<circle cx="287.97" cy="568.60" r="2.5" fill="#ddd" stroke="#111" stroke-width="0.85"/>
<circle cx="287.97" cy="571.80" r="2.5" fill="#ddd" stroke="#111" stroke-width="0.85"/>
<circle cx="287.97" cy="575.00" r="2.5" fill="#fff" stroke="#000" stroke-width="1.05"/>
<circle cx="292.89" cy="576.40" r="2.5" fill="#ddd" stroke="#111" stroke-width="0.85"/>
<circle cx="292.89" cy="578.80" r="2.5" fill="#ddd" stroke="#111" stroke-width="0.85"/>
<circle cx="292.89" cy="581.20" r="2.5" fill="#ddd" stroke="#111" stroke-width="0.85"/>
<circle cx="292.89" cy="583.60" r="2.5" fill="#ddd" stroke="#111" stroke-width="0.85"/>
<circle cx="292.89" cy="586.00" r="2.5" fill="#fff" stroke="#000" stroke-width="1.05"/>
<circle cx="297.81" cy="587.40" r="2.5" fill="#ddd" stroke="#111" stroke-width="0.85"/>
<circle cx="297.81" cy="590.00" r="2.5" fill="#fff" stroke="#000" stroke-width="1.05"/>
<circle cx="302.73" cy="592.50" r="2.5" fill="#fff" stroke="#000" stroke-width="1.05"/>
<circle cx="307.66" cy="594.60" r="2.5" fill="#ddd" stroke="#111" stroke-width="0.85"/>
<circle cx="307.66" cy="597.80" r="2.5" fill="#ddd" stroke="#111" stroke-width="0.85"/>
<circle cx="307.66" cy="601.00" r="2.5" fill="#fff" stroke="#000" stroke-width="1.05"/>
<circle cx="312.58" cy="602.50" r="2.5" fill="#ddd" stroke="#111" stroke-width="0.85"/>
<circle cx="312.58" cy="605.00" r="2.5" fill="#fff" stroke="#000" stroke-width="1.05"/>
<circle cx="317.50" cy="607.00" r="2.5" fill="#fff" stroke="#000" stroke-width="1.05"/>
<circle cx="322.42" cy="610.00" r="2.5" fill="#ddd" stroke="#111" stroke-width="0.85"/>
<circle cx="322.42" cy="612.25" r="2.5" fill="#ddd" stroke="#111" stroke-width="0.85"/>
<circle cx="322.42" cy="614.50" r="2.5" fill="#fff" stroke="#000" stroke-width="1.05"/>
<circle cx="327.34" cy="617.50" r="2.5" fill="#fff" stroke="#000" stroke-width="1.05"/>
<circle cx="332.27" cy="620.50" r="2.5" fill="#fff" stroke="#000" stroke-width="1.05"/>
<circle cx="342.11" cy="622.50" r="2.5" fill="#fff" stroke="#000" stroke-width="1.05"/>
<circle cx="347.03" cy="626.25" r="2.5" fill="#fff" stroke="#000" stroke-width="1.05"/>
<circle cx="351.95" cy="628.75" r="2.5" fill="#ddd" stroke="#111" stroke-width="0.85"/>
<circle cx="351.95" cy="632.00" r="2.5" fill="#fff" stroke="#000" stroke-width="1.05"/>
<circle cx="361.80" cy="633.00" r="2.5" fill="#fff" stroke="#000" stroke-width="1.05"/>
<circle cx="366.72" cy="634.50" r="2.5" fill="#fff" stroke="#000" stroke-width="1.05"/>
<circle cx="371.64" cy="635.50" r="2.5" fill="#fff" stroke="#000" stroke-width="1.05"/>
<circle cx="381.49" cy="638.00" r="2.5" fill="#fff" stroke="#000" stroke-width="1.05"/>
<circle cx="386.41" cy="641.25" r="2.5" fill="#fff" stroke="#000" stroke-width="1.05"/>
<circle cx="396.25" cy="643.00" r="2.5" fill="#fff" stroke="#000" stroke-width="1.05"/>
<circle cx="401.17" cy="644.50" r="2.5" fill="#ddd" stroke="#111" stroke-width="0.85"/>
<circle cx="401.17" cy="647.50" r="2.5" fill="#fff" stroke="#000" stroke-width="1.05"/>
<circle cx="406.10" cy="648.75" r="2.5" fill="#fff" stroke="#000" stroke-width="1.05"/>
<circle cx="411.02" cy="650.50" r="2.5" fill="#ddd" stroke="#111" stroke-width="0.85"/>
<circle cx="411.02" cy="652.50" r="2.5" fill="#ddd" stroke="#111" stroke-width="0.85"/>
<circle cx="411.02" cy="654.50" r="2.5" fill="#fff" stroke="#000" stroke-width="1.05"/>
<circle cx="415.94" cy="656.25" r="2.5" fill="#ddd" stroke="#111" stroke-width="0.85"/>
<circle cx="415.94" cy="658.75" r="2.5" fill="#fff" stroke="#000" stroke-width="1.05"/>
<circle cx="420.86" cy="660.00" r="2.5" fill="#fff" stroke="#000" stroke-width="1.05"/>
<circle cx="450.39" cy="662.00" r="2.5" fill="#fff" stroke="#000" stroke-width="1.05"/>
<circle cx="475.00" cy="663.25" r="2.5" fill="#fff" stroke="#000" stroke-width="1.05"/>
<circle cx="489.77" cy="664.25" r="2.5" fill="#fff" stroke="#000" stroke-width="1.05"/>
<path d="M194.30,454.48 L197.20,457.38 L194.30,460.28 L191.40,457.38 Z" fill="#000"/>
<path d="M198.70,506.66 L201.60,509.56 L198.70,512.46 L195.80,509.56 Z" fill="#000"/>
<path d="M203.90,558.84 L206.80,561.74 L203.90,564.64 L201.00,561.74 Z" fill="#000"/>
<path d="M203.90,611.02 L206.80,613.92 L203.90,616.82 L201.00,613.92 Z" fill="#000"/>
<path d="M297.50,662.70 L300.40,665.60 L297.50,668.50 L294.60,665.60 Z" fill="#000"/>
<text x="225.70000000000002" y="566.6" font-family="Liberation Sans" font-size="15" font-style="italic">P</text>
<text x="236.60000000000002" y="566.6" font-family="Liberation Serif" font-size="13.8" textLength="27.2" lengthAdjust="spacingAndGlyphs">=.007</text>
<text x="152.2" y="594.3" font-family="Liberation Serif" font-size="15" font-weight="bold" font-style="normal" text-anchor="start" >*</text>
<text x="162.70000000000002" y="594.4" font-family="Liberation Sans" font-size="15" font-style="italic">P</text>
<text x="173.3" y="594.4" font-family="Liberation Serif" font-size="13.8" textLength="22.5" lengthAdjust="spacingAndGlyphs">=.45</text>
<text x="134.5" y="487.5" font-family="Liberation Serif" font-size="13" font-weight="bold" font-style="normal" text-anchor="start" textLength="33" lengthAdjust="spacingAndGlyphs" >n = 18</text>
<text x="300.5" y="638" font-family="Liberation Serif" font-size="13" font-weight="bold" font-style="normal" text-anchor="start" textLength="27" lengthAdjust="spacingAndGlyphs" >n = 5</text>
<text x="380" y="624" font-family="Liberation Serif" font-size="13" font-weight="bold" font-style="normal" text-anchor="start" textLength="41" lengthAdjust="spacingAndGlyphs" >n = 183</text>
</svg>
</body></html>
